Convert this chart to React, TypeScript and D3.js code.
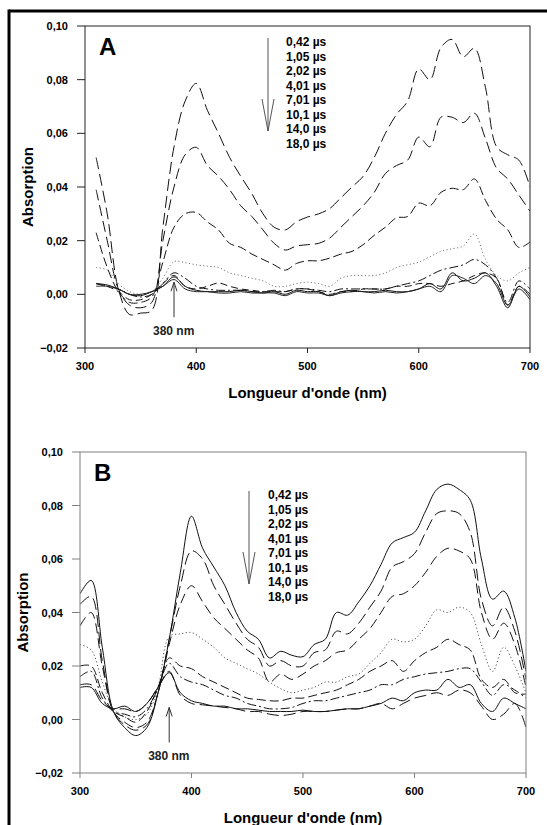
import React from "react";
import * as d3 from "d3";

// ---------- DATA ----------
const timeLabels = ["0,42 µs", "1,05 µs", "2,02 µs", "4,01 µs", "7,01 µs", "10,1 µs", "14,0 µs", "18,0 µs"];

const wavelengthsA = [310, 320, 330, 340, 350, 360, 370, 380, 390, 400, 410, 420, 430, 440, 450, 460, 470, 480, 490, 500,
  510, 520, 530, 540, 550, 560, 570, 580, 590, 600, 610, 620, 630, 640, 650, 660, 670, 680, 690, 700];

const a042 = [0.051, 0.030, 0.002, -0.0075, -0.007, -0.006, 0.025, 0.055, 0.072, 0.0786, 0.0686, 0.060, 0.051, 0.044, 0.0375, 0.030, 0.025, 0.024, 0.027, 0.0288,
  0.030, 0.032, 0.036, 0.040, 0.044, 0.051, 0.060, 0.067, 0.072, 0.084, 0.080, 0.092, 0.095, 0.0885, 0.0917, 0.077, 0.055, 0.052, 0.050, 0.040];
const a105 = [0.039, 0.020, 0.002, -0.004, -0.005, -0.003, 0.020, 0.040, 0.052, 0.0548, 0.048, 0.044, 0.039, 0.033, 0.029, 0.024, 0.019, 0.0165, 0.018, 0.0185,
  0.019, 0.021, 0.025, 0.029, 0.033, 0.038, 0.045, 0.048, 0.050, 0.0586, 0.055, 0.066, 0.066, 0.064, 0.0675, 0.058, 0.047, 0.043, 0.037, 0.031];
const a202 = [0.023, 0.010, 0.001, -0.003, -0.003, -0.001, 0.012, 0.025, 0.030, 0.0305, 0.027, 0.024, 0.019, 0.0175, 0.015, 0.013, 0.011, 0.009, 0.0115, 0.0125,
  0.0125, 0.0135, 0.015, 0.016, 0.0185, 0.022, 0.025, 0.0285, 0.029, 0.034, 0.033, 0.038, 0.0395, 0.039, 0.043, 0.035, 0.028, 0.024, 0.0175, 0.0195];
const a401 = [0.010, 0.009, 0.004, 0.001, 0.000, 0.001, 0.006, 0.0122, 0.0118, 0.011, 0.0105, 0.010, 0.008, 0.007, 0.006, 0.005, 0.003, 0.003, 0.004, 0.0045,
  0.004, 0.003, 0.006, 0.007, 0.007, 0.007, 0.008, 0.010, 0.011, 0.012, 0.014, 0.016, 0.017, 0.018, 0.0225, 0.013, 0.007, 0.005, 0.008, 0.010];
const a701 = [0.004, 0.003, 0.002, 0.000, -0.001, 0.000, 0.004, 0.008, 0.006, 0.003, 0.002, 0.0015, 0.0015, 0.0015, 0.001, 0.001, 0.0015, 0.001, 0.002, 0.002,
  0.0015, 0.001, 0.002, 0.002, 0.002, 0.002, 0.002, 0.003, 0.004, 0.005, 0.007, 0.009, 0.010, 0.011, 0.013, 0.011, 0.006, -0.003, 0.005, 0.002];
const a101 = [0.004, 0.003, 0.001, -0.002, -0.002, 0.000, 0.004, 0.007, 0.003, 0.002, 0.003, 0.0042, 0.003, 0.002, 0.0015, 0.001, 0.001, 0.001, 0.002, 0.002,
  0.001, 0.000, 0.001, 0.001, 0.002, 0.002, 0.002, 0.003, 0.003, 0.004, 0.004, 0.003, 0.004, 0.005, 0.007, 0.008, 0.006, -0.004, 0.003, 0.000];
const a140 = [0.004, 0.0035, 0.002, 0.000, -0.0005, 0.001, 0.003, 0.0065, 0.003, 0.0015, 0.001, 0.001, 0.001, 0.0015, 0.001, 0.0005, 0.001, 0.000, 0.0015, 0.001,
  0.001, -0.0005, 0.001, 0.0015, 0.001, 0.001, 0.0015, 0.001, 0.001, 0.002, 0.004, 0.002, 0.008, 0.005, 0.006, 0.008, 0.003, -0.005, 0.003, -0.001];
const a180 = [0.003, 0.003, 0.002, 0.000, 0.000, 0.001, 0.003, 0.0055, 0.002, 0.001, 0.001, 0.0005, 0.0005, 0.001, 0.0005, 0.0005, 0.0005, -0.0005, 0.001, 0.0005,
  0.0005, -0.0005, 0.0005, 0.001, 0.001, 0.0005, 0.001, 0.0005, 0.001, 0.002, 0.003, 0.001, 0.007, 0.006, 0.004, 0.007, 0.004, -0.004, 0.002, -0.002];

const wavelengthsB = [300, 310, 320, 330, 340, 350, 360, 370, 380, 390, 400, 410, 420, 430, 440, 450, 460, 470, 480, 490, 500,
  510, 520, 530, 540, 550, 560, 570, 580, 590, 600, 610, 620, 630, 640, 650, 660, 670, 680, 690, 700];

const b042 = [0.047, 0.052, 0.027, 0.003, -0.003, -0.006, -0.003, 0.010, 0.030, 0.055, 0.076, 0.064, 0.057, 0.050, 0.040, 0.033, 0.030, 0.023, 0.0255, 0.024, 0.0235,
  0.028, 0.030, 0.040, 0.039, 0.044, 0.050, 0.058, 0.066, 0.068, 0.070, 0.078, 0.086, 0.088, 0.086, 0.082, 0.060, 0.045, 0.048, 0.038, 0.018];
const b105 = [0.043, 0.046, 0.022, 0.003, -0.002, -0.004, -0.002, 0.010, 0.030, 0.050, 0.063, 0.060, 0.050, 0.043, 0.036, 0.030, 0.027, 0.020, 0.022, 0.020, 0.020,
  0.025, 0.026, 0.033, 0.032, 0.036, 0.042, 0.048, 0.057, 0.059, 0.062, 0.070, 0.077, 0.078, 0.077, 0.070, 0.045, 0.035, 0.042, 0.033, 0.015];
const b202 = [0.035, 0.040, 0.020, 0.003, -0.001, -0.003, -0.001, 0.010, 0.028, 0.043, 0.050, 0.044, 0.038, 0.034, 0.030, 0.026, 0.023, 0.014, 0.017, 0.015, 0.017,
  0.020, 0.022, 0.025, 0.026, 0.030, 0.034, 0.040, 0.046, 0.047, 0.050, 0.055, 0.061, 0.064, 0.063, 0.060, 0.040, 0.030, 0.036, 0.028, 0.012];
const b401 = [0.028, 0.026, 0.014, 0.004, 0.001, 0.000, 0.002, 0.012, 0.031, 0.032, 0.0325, 0.030, 0.027, 0.023, 0.021, 0.019, 0.017, 0.014, 0.0115, 0.010, 0.011,
  0.012, 0.014, 0.014, 0.016, 0.017, 0.021, 0.025, 0.030, 0.029, 0.030, 0.035, 0.041, 0.040, 0.042, 0.040, 0.028, 0.018, 0.027, 0.020, 0.010];
const b701 = [0.020, 0.020, 0.010, 0.003, 0.001, -0.001, 0.003, 0.012, 0.023, 0.020, 0.019, 0.016, 0.014, 0.012, 0.010, 0.008, 0.0075, 0.007, 0.007, 0.008, 0.008,
  0.009, 0.010, 0.011, 0.013, 0.015, 0.018, 0.020, 0.022, 0.018, 0.022, 0.025, 0.027, 0.030, 0.028, 0.026, 0.015, 0.012, 0.015, 0.010, 0.0095];
const b101 = [0.016, 0.018, 0.008, 0.003, 0.002, 0.001, 0.004, 0.012, 0.021, 0.016, 0.014, 0.013, 0.011, 0.009, 0.008, 0.006, 0.005, 0.004, 0.004, 0.0045, 0.006,
  0.007, 0.007, 0.008, 0.009, 0.010, 0.011, 0.013, 0.013, 0.015, 0.016, 0.017, 0.0175, 0.018, 0.019, 0.019, 0.014, 0.009, 0.013, 0.011, 0.008];
const b140 = [0.013, 0.013, 0.007, 0.004, 0.004, 0.003, 0.006, 0.012, 0.018, 0.009, 0.006, 0.0055, 0.005, 0.0045, 0.004, 0.003, 0.003, 0.002, 0.0015, 0.002, 0.003,
  0.003, 0.003, 0.0035, 0.004, 0.004, 0.005, 0.006, 0.004, 0.006, 0.008, 0.009, 0.010, 0.009, 0.011, 0.010, 0.005, 0.000, 0.002, 0.006, -0.003];
const b180 = [0.012, 0.012, 0.006, 0.004, 0.005, 0.003, 0.006, 0.012, 0.0175, 0.010, 0.007, 0.006, 0.005, 0.005, 0.004, 0.004, 0.0035, 0.003, 0.003, 0.003, 0.0035,
  0.003, 0.003, 0.0035, 0.004, 0.004, 0.005, 0.006, 0.008, 0.007, 0.010, 0.011, 0.011, 0.015, 0.012, 0.013, 0.006, 0.003, 0.008, 0.006, 0.004];

const seriesA = [a042, a105, a202, a401, a701, a101, a140, a180];
const seriesB = [b042, b105, b202, b401, b701, b101, b140, b180];

const xTicks = [300, 400, 500, 600, 700];
const yTicks = [-0.02, 0, 0.02, 0.04, 0.06, 0.08, 0.1];

// ---------- STYLES ----------
const FONT = "'Liberation Sans', Arial, Helvetica, sans-serif";
type LS = { dash: string; color: string; width: number };
const stylesA: LS[] = [
  { dash: "12,5", color: "#111", width: 1 },
  { dash: "11,5", color: "#111", width: 1 },
  { dash: "9,4", color: "#111", width: 1 },
  { dash: "1.2,2.4", color: "#777", width: 1 },
  { dash: "9,3,2,3", color: "#111", width: 1 },
  { dash: "7,4", color: "#111", width: 1 },
  { dash: "", color: "#111", width: 1 },
  { dash: "", color: "#222", width: 1 },
];
const stylesB: LS[] = [
  { dash: "", color: "#111", width: 1 },
  { dash: "12,5", color: "#111", width: 1 },
  { dash: "10,5", color: "#111", width: 1 },
  { dash: "1.2,2.4", color: "#555", width: 1 },
  { dash: "9,4", color: "#111", width: 1 },
  { dash: "9,3,2,3", color: "#111", width: 1 },
  { dash: "12,5", color: "#111", width: 1 },
  { dash: "", color: "#111", width: 1 },
];

type PanelProps = {
  letter: string;
  wl: number[];
  series: number[][];
  styles: LS[];
  left: number; right: number; top: number; bottom: number;
  axisColor: string;
  yLabelX: number;
  titleY: number;
  legendX: number; legendY: number;
  arrowX: number;
};

const fmt = (v: number) => d3.format(".2f")(v).replace(".", ",");

function Panel(p: PanelProps) {
  const x = d3.scaleLinear().domain([300, 700]).range([p.left, p.right]);
  const y = d3.scaleLinear().domain([-0.02, 0.1]).range([p.bottom, p.top]);
  const line = d3.line<number>()
    .x((_, i) => x(p.wl[i]))
    .y((d) => y(d))
    .curve(d3.curveCatmullRom.alpha(0.5));
  const cx = (p.left + p.right) / 2;
  const cy = (p.top + p.bottom) / 2;
  const x380 = x(380);
  const legendStep = 14.5;
  const arrTop = p.legendY - 4;
  const arrBot = p.legendY + 89;
  return (
    <g>
      <defs>
        <clipPath id={"clip" + p.letter}>
          <rect x={p.left} y={p.top} width={p.right - p.left} height={p.bottom - p.top} />
        </clipPath>
      </defs>
      <g clipPath={`url(#clip${p.letter})`}>
        {p.series.map((s, i) => (
          <path key={i} d={line(s) || ""} fill="none" stroke={p.styles[i].color}
            strokeWidth={p.styles[i].width} strokeDasharray={p.styles[i].dash || undefined} />
        ))}
      </g>
      <rect x={p.left} y={p.top} width={p.right - p.left} height={p.bottom - p.top}
        fill="none" stroke={p.axisColor} strokeWidth={1} />
      {yTicks.map((t) => (
        <g key={"y" + t}>
          <line x1={p.left - 8} x2={p.left} y1={y(t)} y2={y(t)} stroke={p.axisColor} />
          <text x={p.left - 17} y={y(t) + 4} textAnchor="end" fontFamily={FONT} fontSize={11} fontWeight="bold">{fmt(t)}</text>
        </g>
      ))}
      {xTicks.map((t) => (
        <g key={"x" + t}>
          <line x1={x(t)} x2={x(t)} y1={p.bottom} y2={p.bottom + 5} stroke={p.axisColor} />
          <text x={x(t)} y={p.bottom + 22} textAnchor="middle" fontFamily={FONT} fontSize={11} fontWeight="bold">{t}</text>
        </g>
      ))}
      <text transform={`translate(${p.yLabelX},${cy}) rotate(-90)`} textAnchor="middle" dominantBaseline="central"
        fontFamily={FONT} fontSize={15} fontWeight="bold">Absorption</text>
      <text x={cx} y={p.titleY} textAnchor="middle" fontFamily={FONT} fontSize={15} fontWeight="bold">Longueur d'onde (nm)</text>
      <text x={p.left + 14} y={p.top + 29} fontFamily={FONT} fontSize={24} fontWeight="bold">{p.letter}</text>
      <line x1={p.arrowX} x2={p.arrowX} y1={arrTop} y2={arrBot} stroke="#555" strokeWidth={1} />
      <polyline points={`${p.arrowX - 6},${arrBot - 32} ${p.arrowX},${arrBot} ${p.arrowX + 6},${arrBot - 32}`}
        fill="none" stroke="#555" strokeWidth={1} />
      {timeLabels.map((t, i) => (
        <text key={t} x={p.legendX} y={p.legendY + i * legendStep + 4} fontFamily={FONT} fontSize={12} fontWeight="bold">{t}</text>
      ))}
      <line x1={x380} x2={x380} y1={y(0.0045) + 35} y2={y(0.0045)} stroke="#333" strokeWidth={1} />
      <polyline points={`${x380 - 3},${y(0.0045) + 9} ${x380},${y(0.0045)} ${x380 + 3},${y(0.0045) + 9}`}
        fill="none" stroke="#333" strokeWidth={1} />
      <text x={x380 - 21} y={y(0.0045) + 53} fontFamily={FONT} fontSize={12} fontWeight="bold" fill="#222">380 nm</text>
    </g>
  );
}

export default function App() {
  return (
    <svg width={547} height={825} style={{ position: "absolute", left: 0, top: 0, background: "#fff" }}>
      <rect x={0} y={0} width={547} height={825} fill="#fff" />
      <line x1={9} x2={547} y1={11} y2={11} stroke="#000" strokeWidth={3} />
      <line x1={9} x2={9} y1={9.5} y2={825} stroke="#000" strokeWidth={3} />
      <Panel letter="A" wl={wavelengthsA} series={seriesA} styles={stylesA}
        left={85} right={530} top={26} bottom={348} axisColor="#222"
        yLabelX={27} titleY={398} legendX={286} legendY={42} arrowX={268} />
      <Panel letter="B" wl={wavelengthsB} series={seriesB} styles={stylesB}
        left={80} right={526} top={452} bottom={773} axisColor="#808080"
        yLabelX={22} titleY={823} legendX={268} legendY={495} arrowX={249} />
    </svg>
  );
}
